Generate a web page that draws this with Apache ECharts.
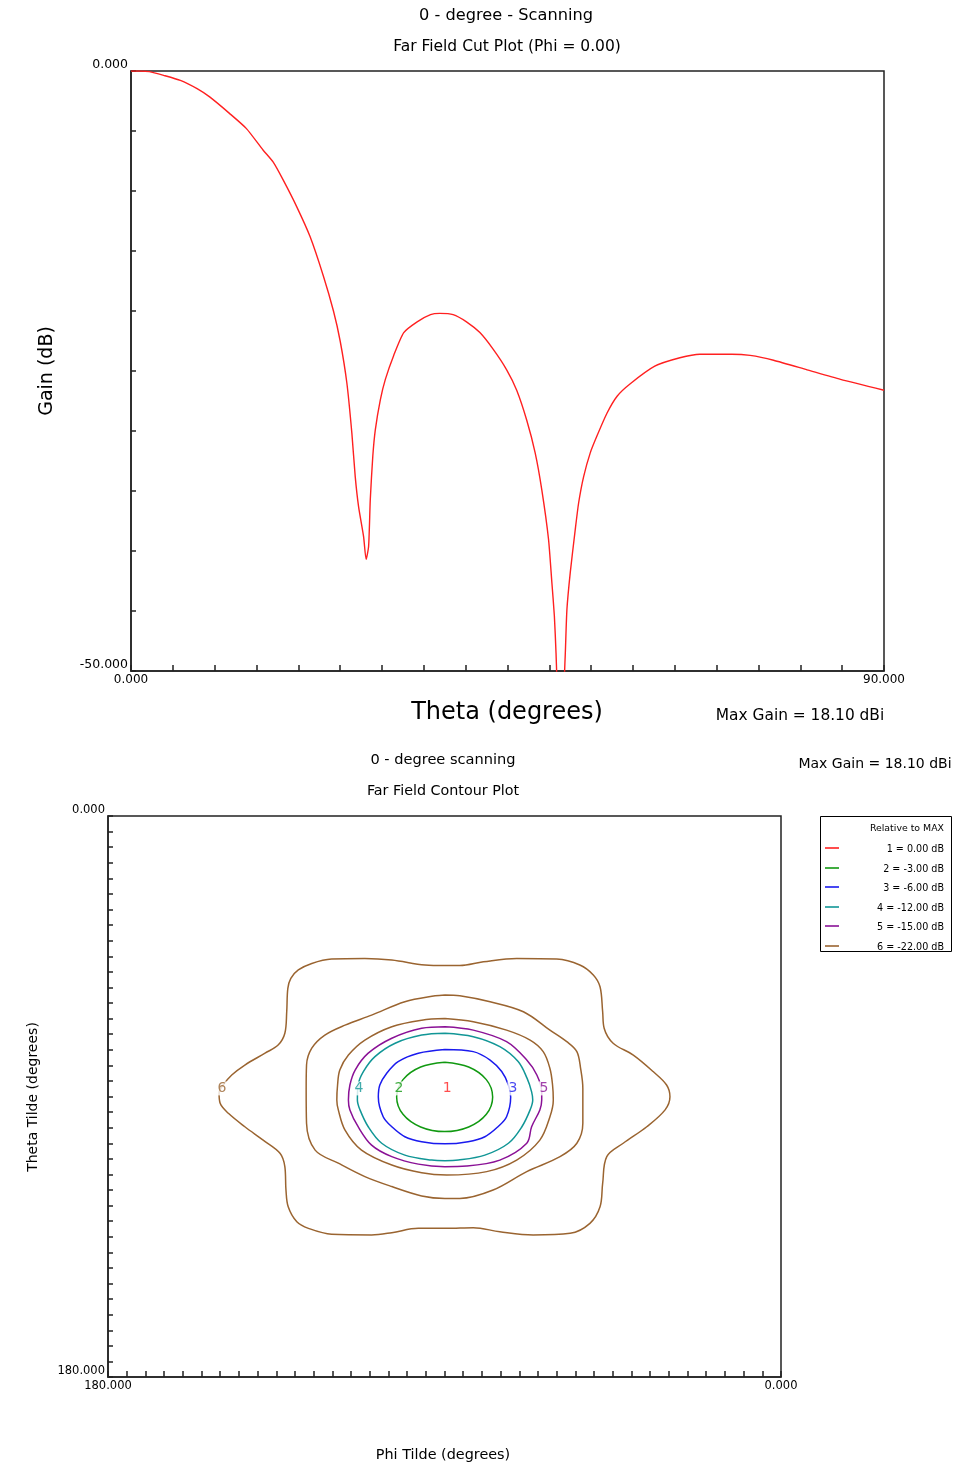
<!DOCTYPE html>
<html>
<head>
<meta charset="utf-8">
<script src="https://cdn.jsdelivr.net/npm/echarts@6/dist/echarts.min.js"></script>
<style>
html,body{margin:0;padding:0;background:#fff;}
#c{width:953px;height:1467px;}
</style>
</head>
<body>
<div id="c"></div>
<script>
// ---------- Far field cut plot (Phi = 0) ----------
const thetaDeg = [0, 1, 2.2, 3.9, 5.9, 7.9, 9.4, 11.8, 13.8, 15.8, 17.0, 18.2, 19.8, 21.4, 23.0, 24.2, 25.0, 25.8, 26.4, 26.8, 27.2, 27.8, 28.1, 28.4, 28.6, 28.9, 29.2, 29.8, 30.4, 31.4, 32.6, 34.2, 35.8, 36.9, 38.5, 40.1, 41.7, 43.3, 44.9, 46.1, 47.3, 48.3, 49.1, 49.9, 50.3, 50.6, 50.8, 51.3, 51.9, 52.1, 52.5, 53.1, 53.5, 54.1, 54.9, 55.7, 56.9, 58.1, 59.6, 62.6, 65.6, 68.0, 71.8, 74.0, 76.8, 80.8, 84.8, 90.0];
const gainDb = [0, 0, -0.05, -0.36, -0.78, -1.47, -2.16, -3.55, -4.8, -6.6, -7.6, -9.1, -11.3, -13.8, -17.1, -20.0, -22.5, -26.0, -30.2, -33.8, -36.3, -38.8, -40.7, -39.6, -35.7, -32.1, -29.9, -27.4, -25.7, -23.7, -21.8, -20.9, -20.3, -20.2, -20.3, -20.9, -21.8, -23.2, -24.9, -26.6, -29.1, -31.8, -34.9, -39.0, -42.6, -45.4, -48.5, -58.0, -48.7, -44.9, -41.8, -38.2, -36.0, -33.8, -31.8, -30.4, -28.5, -27.1, -26.1, -24.6, -23.9, -23.6, -23.6, -23.7, -24.1, -24.9, -25.7, -26.6];
const cutXLabelValues = [0, 90];
const cutXLabelTexts = ['0.000', '90.000'];
const cutYLabelValues = [0, -50];
const cutYLabelTexts = ['0.000', '-50.000'];

// ---------- Far field contour plot ----------
const contourLevelsDb = ['0.00', '-3.00', '-6.00', '-12.00', '-15.00', '-22.00'];
// contour loops: [phiTilde, thetaTilde] in degrees
const contour2_m3dB = [[89.96,79.03],[83.54,80.53],[78.81,84.59],[77.12,90.15],[78.81,95.71],[83.54,99.78],[89.96,101.27],[96.38,99.78],[101.10,95.71],[102.80,90.15],[101.10,84.59],[96.38,80.53]];
const contour3_m6dB = [[89.9,74.9],[82.3,75.6],[77.8,78.3],[74.7,82.0],[72.9,86.3],[72.3,90.2],[73.4,96.5],[75.7,99.7],[79.2,102.9],[83.7,104.5],[89.9,105.2],[96.1,104.5],[100.6,102.9],[104.1,99.7],[106.4,96.5],[107.7,90.2],[107.3,86.3],[105.5,82.6],[102.4,78.8],[97.0,76.1]];
const contour4_m12dB = [[89.9,69.7],[82.3,70.8],[75.2,74.0],[70.3,78.8],[67.9,84.2],[66.7,88.5],[66.4,91.1],[67.1,94.3],[69.3,99.7],[72.9,105.0],[79.2,108.8],[86.3,110.4],[89.9,110.6],[93.4,110.4],[100.6,108.8],[106.8,105.0],[110.4,99.7],[112.6,94.3],[113.3,91.1],[113.1,86.3],[111.7,82.0],[108.6,77.2],[103.2,72.9],[96.1,70.3]];
const contour5_m15dB = [[89.9,67.6],[82.3,68.7],[73.4,72.4],[68.0,78.3],[65.3,83.1],[64.0,88.5],[64.0,91.1],[64.5,94.3],[66.7,99.7],[68.0,105.0],[75.2,110.4],[84.1,112.3],[89.9,112.5],[97.0,111.7],[104.1,109.3],[109.5,105.6],[113.1,99.7],[115.3,94.3],[115.7,91.1],[115.3,86.3],[113.9,81.5],[110.4,76.1],[104.1,71.3],[96.1,68.1]];
const contour6_m22dB_inner = [[89.9,65.0],[82.3,66.0],[73.4,68.7],[67.1,71.9],[63.6,75.6],[61.8,81.0],[61.1,86.3],[60.9,91.1],[61.8,96.5],[64.5,104.0],[70.7,110.4],[78.7,114.1],[89.4,115.2],[96.1,114.5],[104.1,112.0],[112.2,107.2],[116.6,100.8],[118.4,94.3],[118.8,91.1],[118.6,86.3],[118.0,81.5],[115.7,76.7],[111.3,71.9],[104.1,67.6],[96.1,65.5]];
const contour6_m22dB_middle = [[89.9,57.4],[85.9,57.7],[77.8,59.6],[68.9,62.8],[61.8,68.7],[57.3,72.4],[54.6,75.6],[53.6,81.0],[53.0,87.4],[53.0,98.6],[54.6,105.0],[59.1,109.3],[68.0,114.1],[77.0,120.0],[85.9,122.7],[89.9,122.7],[96.1,121.9],[104.1,118.9],[111.3,115.7],[118.4,111.4],[124.6,107.2],[126.9,98.6],[127.0,87.9],[126.9,79.9],[125.5,74.5],[122.0,70.3],[116.6,67.1],[109.5,63.9],[100.6,59.6],[92.5,57.7]];
const contour6_m22dB_outer = [[89.9,48.0],[85.9,48.0],[79.6,46.8],[70.7,45.7],[60.0,45.9],[53.8,47.8],[50.2,51.0],[48.4,54.8],[47.7,62.8],[47.3,68.1],[44.9,72.9],[39.5,76.7],[34.2,82.0],[30.6,86.3],[29.7,90.1],[31.0,94.3],[35.9,99.7],[42.2,105.0],[46.6,109.3],[47.7,117.9],[48.4,125.4],[51.1,130.7],[56.4,133.9],[66.3,134.4],[75.2,133.4],[82.3,132.1],[89.4,132.3],[97.0,132.3],[104.1,133.7],[109.5,134.4],[120.2,134.2],[126.4,132.3],[129.5,130.2],[131.8,125.4],[132.4,120.0],[132.7,112.5],[134.0,108.2],[138.5,104.0],[143.4,99.7],[147.8,95.4],[150.0,92.2],[150.3,88.9],[149.2,86.3],[146.9,83.1],[143.4,79.9],[138.0,76.1],[134.5,73.5],[132.7,69.7],[132.2,62.8],[131.9,55.3],[131.1,52.1],[129.1,49.4],[125.5,47.3],[120.2,45.9],[111.3,45.7],[104.1,46.2],[95.2,47.8]];
const contourLabelPhi = [89.3, 102.2, 71.7, 112.9, 63.4, 149.5];
const contourLabelTheta = [87.4, 87.4, 87.4, 87.4, 87.4, 87.4];
const contourLabelTexts = ['1', '2', '3', '4', '5', '6'];
const contourXLabelValues = [180, 0];
const contourXLabelTexts = ['180.000', '0.000'];
const contourYLabelValues = [0, 180];
const contourYLabelTexts = ['0.000', '180.000'];

// ---------- styles ----------
const levelColors = ['#ff2020', '#119911', '#1a1aee', '#119696', '#8a1196', '#9a6430'];
const FONT = '"DejaVu Sans", Verdana, sans-serif';
const AX = '#222';

function endLabel(values, texts) {
  return function (v) {
    for (let i = 0; i < values.length; i++) if (Math.abs(v - values[i]) < 1e-6) return texts[i];
    return '';
  };
}
function closeLoop(arr) { return arr.concat([arr[0]]); }

const loops = [
  [contour2_m3dB, 1], [contour3_m6dB, 2], [contour4_m12dB, 3], [contour5_m15dB, 4],
  [contour6_m22dB_inner, 5], [contour6_m22dB_middle, 5], [contour6_m22dB_outer, 5]
];

const series = [{
  type: 'line', xAxisIndex: 0, yAxisIndex: 0,
  data: thetaDeg.map((t, i) => [t, gainDb[i]]),
  symbol: 'none', clip: true, smooth: 0.2,
  lineStyle: { color: '#ff2020', width: 1.4 }
}];
loops.forEach(([pts, li]) => {
  series.push({
    type: 'line', xAxisIndex: 1, yAxisIndex: 1,
    data: closeLoop(pts), symbol: 'none', smooth: 0.35, clip: true,
    lineStyle: { color: levelColors[li], width: 1.5 }
  });
});
series.push({
  type: 'scatter', xAxisIndex: 1, yAxisIndex: 1, symbolSize: 0, z: 10,
  data: contourLabelTexts.map((t, i) => ({
    value: [contourLabelPhi[i], contourLabelTheta[i], t],
    label: { color: levelColors[i] }
  })),
  label: {
    show: true, position: 'inside', formatter: p => p.value[2],
    fontFamily: FONT, fontSize: 14, backgroundColor: '#fff', padding: [0, 1]
  }
});

const axisCommon = {
  type: 'value',
  splitLine: { show: false },
  axisLine: { show: true, onZero: false, lineStyle: { color: AX, width: 1.5 } },
};

function txt(x, y, text, size, opts) {
  opts = opts || {};
  return Object.assign({
    type: 'text', x: x, y: y, silent: true,
    style: {
      text: text, fill: '#000', font: size + 'px ' + FONT,
      align: opts.align || 'center', verticalAlign: 'middle',
      textAlign: opts.align || 'center', textVerticalAlign: 'middle'
    }
  }, opts.rotation ? { rotation: opts.rotation } : {});
}

const graphics = [
  txt(506, 16, '0 - degree - Scanning', 16.2),
  txt(507, 47, 'Far Field Cut Plot (Phi = 0.00)', 15.5),
  txt(47, 371, 'Gain (dB)', 19, { rotation: Math.PI / 2 }),
  txt(507, 713, 'Theta (degrees)', 24),
  txt(800, 716, 'Max Gain = 18.10 dBi', 15.4),
  txt(443, 760, '0 - degree scanning', 14.6),
  txt(443, 791, 'Far Field Contour Plot', 14.3),
  txt(875, 764, 'Max Gain = 18.10 dBi', 14),
  txt(33, 1097, 'Theta Tilde (degrees)', 14, { rotation: Math.PI / 2 }),
  txt(443, 1455, 'Phi Tilde (degrees)', 14.4),
  { type: 'rect', shape: { x: 820.5, y: 816.5, width: 131, height: 135 }, style: { fill: '#fff', stroke: '#000', lineWidth: 1 } },
  txt(944, 829, 'Relative to MAX', 9.4, { align: 'right' })
];
contourLevelsDb.forEach((lv, i) => {
  const y = Math.round(848 + i * 19.6);
  graphics.push({ type: 'line', shape: { x1: 825, y1: y, x2: 839, y2: y }, style: { stroke: levelColors[i], lineWidth: 1.6 } });
  graphics.push(txt(944, y + 1, (i + 1) + ' = ' + lv + ' dB', 9.6, { align: 'right' }));
});

const option = {
  animation: false,
  backgroundColor: '#fff',
  grid: [
    { left: 131, top: 71, width: 753, height: 600, show: true, borderColor: AX, borderWidth: 1.5 },
    { left: 108, top: 816, width: 673, height: 561, show: true, borderColor: AX, borderWidth: 1.5 }
  ],
  xAxis: [
    Object.assign({}, axisCommon, {
      gridIndex: 0, min: 0, max: 90, interval: 5,
      axisTick: { show: true, inside: true, length: 6, lineStyle: { color: AX, width: 1.5 } },
      axisLabel: { showMinLabel: true, showMaxLabel: true, margin: 3, color: '#000', fontFamily: FONT, fontSize: 12, formatter: endLabel(cutXLabelValues, cutXLabelTexts) }
    }),
    Object.assign({}, axisCommon, {
      gridIndex: 1, min: 0, max: 180, interval: 5, inverse: true,
      axisTick: { show: true, inside: true, length: 6, lineStyle: { color: AX, width: 1.5 } },
      axisLabel: { showMinLabel: true, showMaxLabel: true, margin: 3, color: '#000', fontFamily: FONT, fontSize: 11.5, formatter: endLabel(contourXLabelValues, contourXLabelTexts) }
    })
  ],
  yAxis: [
    Object.assign({}, axisCommon, {
      gridIndex: 0, min: -50, max: 0, interval: 5,
      axisTick: { show: true, inside: true, length: 5, lineStyle: { color: AX, width: 1.5 } },
      axisLabel: { showMinLabel: true, showMaxLabel: true, margin: 3, color: '#000', fontFamily: FONT, fontSize: 12.5, verticalAlign: 'bottom', formatter: endLabel(cutYLabelValues, cutYLabelTexts) }
    }),
    Object.assign({}, axisCommon, {
      gridIndex: 1, min: 0, max: 180, interval: 5, inverse: true,
      axisTick: { show: true, inside: true, length: 5, lineStyle: { color: AX, width: 1.5 } },
      axisLabel: { showMinLabel: true, showMaxLabel: true, margin: 3, color: '#000', fontFamily: FONT, fontSize: 11.5, verticalAlign: 'bottom', formatter: endLabel(contourYLabelValues, contourYLabelTexts) }
    })
  ],
  graphic: { elements: graphics },
  series: series
};

const chart = echarts.init(document.getElementById('c'), null, { renderer: 'canvas' });
chart.setOption(option);
</script>
</body>
</html>
